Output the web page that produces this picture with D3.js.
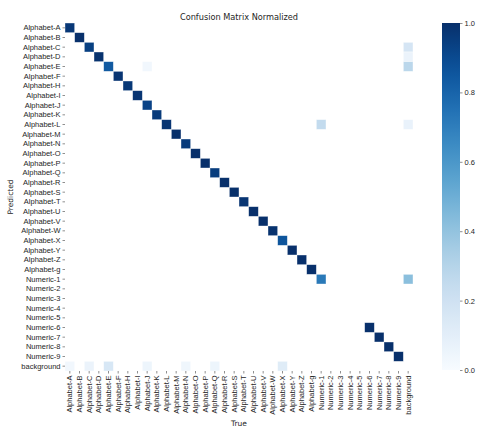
<!DOCTYPE html>
<html>
<head>
<meta charset="utf-8">
<script src="https://cdn.jsdelivr.net/npm/d3@7"></script>
<style>
  html, body { margin: 0; padding: 0; background: #fff; }
  svg { display: block; font-family: "DejaVu Sans", sans-serif; }
</style>
</head>
<body>
<svg id="chart" width="477" height="427"></svg>
<script>
// Class names (same order for predicted rows and true columns)
const classes = [
  "Alphabet-A","Alphabet-B","Alphabet-C","Alphabet-D","Alphabet-E","Alphabet-F",
  "Alphabet-H","Alphabet-I","Alphabet-J","Alphabet-K","Alphabet-L","Alphabet-M",
  "Alphabet-N","Alphabet-O","Alphabet-P","Alphabet-Q","Alphabet-R","Alphabet-S",
  "Alphabet-T","Alphabet-U","Alphabet-V","Alphabet-W","Alphabet-X","Alphabet-Y",
  "Alphabet-Z","Alphabet-g","Numeric-1","Numeric-2","Numeric-3","Numeric-4",
  "Numeric-5","Numeric-6","Numeric-7","Numeric-8","Numeric-9","background"
];

// Normalized diagonal (correct prediction rate per class); 0 = empty cell
const diagonal = [
  0.97, 1.00, 0.94, 0.99, 0.84, 0.98,
  0.97, 0.98, 0.93, 0.96, 0.98, 1.00,
  0.96, 1.00, 1.00, 0.95, 1.00, 1.00,
  0.98, 1.00, 1.00, 0.99, 0.86, 1.00,
  1.00, 1.00, 0.72, 0, 0,    0,
  0,    1.00, 1.00, 1.00, 1.00, 0
];

// Off-diagonal confusions
const offPredicted = ["Alphabet-C","Alphabet-D","Alphabet-E","Alphabet-E","Alphabet-L","Alphabet-L","Numeric-1",
  "background","background","background","background","background","background","background"];
const offTrue      = ["background","background","background","Alphabet-J","Numeric-1","background","background",
  "Alphabet-A","Alphabet-C","Alphabet-E","Alphabet-J","Alphabet-N","Alphabet-Q","Alphabet-X"];
const offValues    = [0.17, 0.06, 0.28, 0.03, 0.25, 0.07, 0.42,
  0.03, 0.06, 0.16, 0.05, 0.04, 0.05, 0.12];

// Colorbar ticks
const cbarTicks = [0.0, 0.2, 0.4, 0.6, 0.8, 1.0];

const cells = [];
diagonal.forEach((v, i) => { if (v > 0.005) cells.push({ pred: classes[i], truth: classes[i], value: v }); });
offValues.forEach((v, i) => cells.push({ pred: offPredicted[i], truth: offTrue[i], value: v }));

const svg = d3.select("#chart");
const plotLeft = 65, plotTop = 23, plotSize = 348;
const textColor = "#262626";
const tickFont = "7.5px";

const x = d3.scaleBand().domain(classes).range([plotLeft, plotLeft + plotSize]);
const y = d3.scaleBand().domain(classes).range([plotTop, plotTop + plotSize]);
const color = d3.scaleSequential(d3.interpolateBlues).domain([0, 1]);

// Heatmap cells
svg.append("g").selectAll("rect").data(cells).join("rect")
  .attr("x", d => x(d.truth))
  .attr("y", d => y(d.pred))
  .attr("width", x.bandwidth())
  .attr("height", y.bandwidth())
  .attr("fill", d => color(d.value))
  .attr("stroke", "#ffffff")
  .attr("stroke-opacity", 0.55)
  .attr("stroke-width", 0.7);

// Axes
const yAxis = svg.append("g")
  .attr("transform", `translate(${plotLeft},0)`)
  .call(d3.axisLeft(y).tickSize(2.5).tickPadding(2));
const xAxis = svg.append("g")
  .attr("transform", `translate(0,${plotTop + plotSize})`)
  .call(d3.axisBottom(x).tickSize(2.5).tickPadding(2));

[xAxis, yAxis].forEach(g => {
  g.select(".domain").remove();
  g.selectAll(".tick line").attr("stroke", "#444").attr("stroke-width", 0.6);
  g.selectAll(".tick text").attr("fill", textColor).style("font-size", tickFont);
});
xAxis.selectAll(".tick text")
  .attr("transform", "rotate(-90)")
  .attr("text-anchor", "end")
  .attr("x", -4.5)
  .attr("y", 0)
  .attr("dx", null)
  .attr("dy", "0.32em");

// Title and axis titles
svg.append("text")
  .attr("x", plotLeft + plotSize / 2).attr("y", 19.5)
  .attr("text-anchor", "middle")
  .attr("fill", textColor)
  .style("font-size", "8.2px")
  .text("Confusion Matrix Normalized");

svg.append("text")
  .attr("transform", `translate(13,${plotTop + plotSize / 2}) rotate(-90)`)
  .attr("text-anchor", "middle")
  .attr("fill", textColor)
  .style("font-size", tickFont)
  .text("Predicted");

svg.append("text")
  .attr("x", plotLeft + plotSize / 2).attr("y", 426)
  .attr("text-anchor", "middle")
  .attr("fill", textColor)
  .style("font-size", tickFont)
  .text("True");

// Colorbar
const cbX = 442, cbW = 18;
const cbScale = d3.scaleLinear().domain([0, 1]).range([plotTop + plotSize - 1, plotTop]);
const grad = svg.append("defs").append("linearGradient")
  .attr("id", "cbar").attr("x1", 0).attr("y1", 1).attr("x2", 0).attr("y2", 0);
d3.range(0, 1.0001, 0.05).forEach(t => {
  grad.append("stop").attr("offset", t).attr("stop-color", color(t));
});
svg.append("rect")
  .attr("x", cbX).attr("y", cbScale(1))
  .attr("width", cbW).attr("height", cbScale(0) - cbScale(1))
  .attr("fill", "url(#cbar)");

const cbAxis = svg.append("g")
  .attr("transform", `translate(${cbX + cbW},0)`)
  .call(d3.axisRight(cbScale).tickValues(cbarTicks).tickFormat(d3.format(".1f")).tickSize(2.5).tickPadding(2));
cbAxis.select(".domain").remove();
cbAxis.selectAll(".tick line").attr("stroke", "#444").attr("stroke-width", 0.6);
cbAxis.selectAll(".tick text").attr("fill", textColor).style("font-size", tickFont);
</script>
</body>
</html>
